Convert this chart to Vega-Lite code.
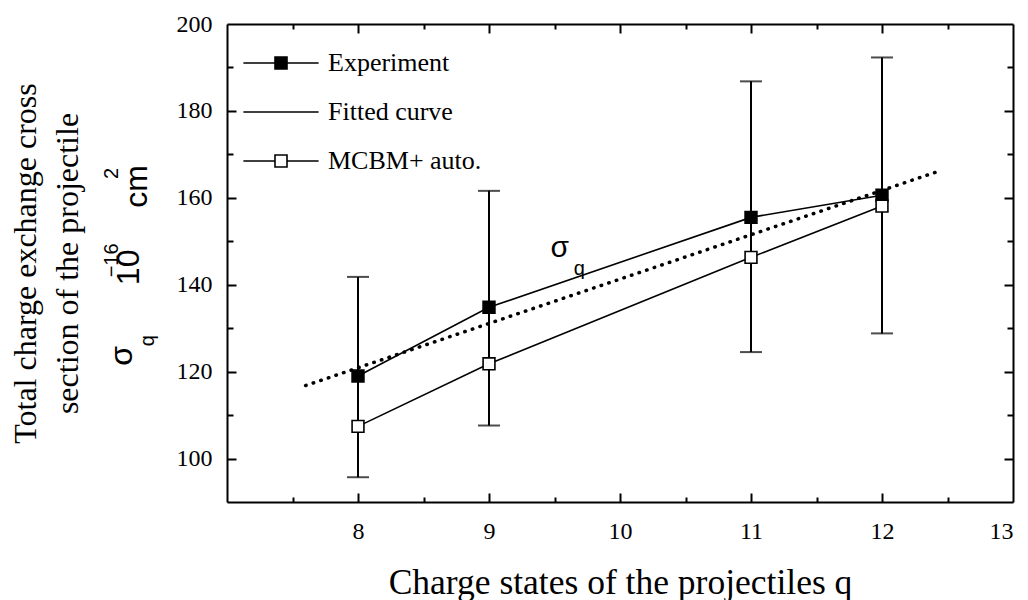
{
  "$schema": "https://vega.github.io/schema/vega-lite/v6.json",
  "width": 786,
  "height": 478,
  "autosize": {"type": "none"},
  "padding": {"left": 227, "top": 24, "right": 15, "bottom": 98},
  "background": "white",
  "config": {
    "view": {"stroke": null},
    "axis": {
      "grid": false,
      "domainColor": "black",
      "tickColor": "black",
      "domainWidth": 2,
      "tickWidth": 2,
      "labelFont": "Liberation Serif",
      "labelFontSize": 24,
      "labelColor": "black",
      "titleFont": "Liberation Serif",
      "titleFontSize": 29,
      "titleFontWeight": "normal",
      "titleColor": "black"
    }
  },
  "datasets": {
    "main": [
      {"series": "Experiment", "q": 8, "sigma": 119.0, "lo": 95.7, "hi": 141.8},
      {"series": "Experiment", "q": 9, "sigma": 134.8, "lo": 107.6, "hi": 161.6},
      {"series": "Experiment", "q": 11, "sigma": 155.5, "lo": 124.5, "hi": 186.8},
      {"series": "Experiment", "q": 12, "sigma": 160.6, "lo": 128.8, "hi": 192.3},
      {"series": "MCBM+ auto.", "q": 8, "sigma": 107.4},
      {"series": "MCBM+ auto.", "q": 9, "sigma": 121.8},
      {"series": "MCBM+ auto.", "q": 11, "sigma": 146.3},
      {"series": "MCBM+ auto.", "q": 12, "sigma": 158.1},
      {"series": "Fitted curve", "q": 7.6, "sigma": 116.8},
      {"series": "Fitted curve", "q": 12.45, "sigma": 166.3}
    ]
  },
  "resolve": {"axis": {"x": "independent", "y": "independent"}},
  "layer": [
    {
      "data": {"name": "main"},
      "transform": [{"filter": "datum.series === 'Experiment'"}],
      "mark": {"type": "rule", "color": "black", "strokeWidth": 2},
      "encoding": {
        "x": {"field": "q", "type": "quantitative", "scale": {"domain": [7, 13], "nice": false, "zero": false},
          "axis": {"orient": "bottom", "values": [8, 9, 10, 11, 12, 13], "ticks": false, "labelPadding": 17, "labelFont": "Liberation Serif", "labelFontSize": 24, "title": "Charge states of the projectiles q", "titlePadding": 22, "titleFont": "Liberation Serif", "titleFontSize": 35.5}},
        "y": {"field": "lo", "type": "quantitative", "scale": {"domain": [90, 200], "nice": false, "zero": false},
          "axis": {"orient": "left", "values": [100, 120, 140, 160, 180, 200], "ticks": false, "labelPadding": 15, "labelFont": "Liberation Serif", "labelFontSize": 24, "title": ["Total charge exchange cross", "section of the projectile"], "titleFont": "Liberation Serif", "titleFontSize": 32, "titlePadding": 92, "titleLineHeight": 42}},
        "y2": {"field": "hi"}
      }
    },
    {
      "data": {"name": "main"},
      "transform": [{"filter": "datum.series === 'Experiment'"}],
      "mark": {"type": "tick", "orient": "horizontal", "color": "black", "size": 22, "thickness": 2},
      "encoding": {
        "x": {"field": "q", "type": "quantitative", "axis": {"orient": "bottom", "values": [8, 9, 10, 11, 12], "labels": false, "domain": false, "tickSize": -9, "title": null}},
        "y": {"field": "lo", "type": "quantitative", "axis": {"orient": "left", "values": [100, 120, 140, 160, 180], "labels": false, "domain": false, "tickSize": -9, "title": null}}
      }
    },
    {
      "data": {"name": "main"},
      "transform": [{"filter": "datum.series === 'Experiment'"}],
      "mark": {"type": "tick", "orient": "horizontal", "color": "black", "size": 22, "thickness": 2},
      "encoding": {
        "x": {"field": "q", "type": "quantitative", "axis": {"orient": "bottom", "values": [7.5, 8.5, 9.5, 10.5, 11.5, 12.5], "labels": false, "domain": false, "tickSize": -5, "title": null}},
        "y": {"field": "hi", "type": "quantitative", "axis": {"orient": "left", "values": [110, 130, 150, 170, 190], "labels": false, "domain": false, "tickSize": -6, "title": null}}
      }
    },
    {
      "data": {"name": "main"},
      "transform": [{"filter": "datum.series === 'Fitted curve'"}],
      "mark": {"type": "line", "color": "black", "strokeWidth": 3.5, "strokeCap": "round", "strokeDash": [0.5, 7.5]},
      "encoding": {
        "x": {"field": "q", "type": "quantitative", "axis": {"orient": "top", "values": [8, 9, 10, 11, 12], "labels": false, "tickSize": -9, "title": null}},
        "y": {"field": "sigma", "type": "quantitative", "axis": {"orient": "right", "values": [100, 120, 140, 160, 180], "labels": false, "tickSize": -9, "title": null}}
      }
    },
    {
      "data": {"name": "main"},
      "transform": [{"filter": "datum.series !== 'Fitted curve'"}],
      "mark": {"type": "line", "color": "black", "strokeWidth": 1.6},
      "encoding": {
        "x": {"field": "q", "type": "quantitative", "axis": {"orient": "top", "values": [7.5, 8.5, 9.5, 10.5, 11.5, 12.5], "labels": false, "domain": false, "tickSize": -5, "title": null}},
        "y": {"field": "sigma", "type": "quantitative", "axis": {"orient": "right", "values": [110, 130, 150, 170, 190], "labels": false, "domain": false, "tickSize": -6, "title": null}},
        "detail": {"field": "series", "type": "nominal"}
      }
    },
    {
      "data": {"name": "main"},
      "transform": [{"filter": "datum.series !== 'Fitted curve'"}],
      "mark": {"type": "point", "shape": "square", "size": 140, "stroke": "black", "strokeWidth": 1.6, "opacity": 1},
      "encoding": {
        "x": {"field": "q", "type": "quantitative", "axis": null},
        "y": {"field": "sigma", "type": "quantitative", "axis": null},
        "fill": {"field": "series", "type": "nominal",
          "scale": {"domain": ["Experiment", "Fitted curve", "MCBM+ auto."], "range": ["black", "white", "white"]},
          "legend": {
            "orient": "none", "legendX": 41, "legendY": 26, "title": null, "padding": 0,
            "labelOffset": 34, "rowPadding": 23, "symbolSize": 256,
            "labelFont": "Liberation Serif", "labelFontSize": 26, "labelColor": "black", "labelLimit": 400,
            "encoding": {
              "symbols": {
                "shape": {"value": {"expr": "datum.value === 'Fitted curve' ? 'M-4.7,0H4.7' : 'M-4.7,0H-0.75M0.75,0H4.7M-0.75,-0.75H0.75V0.75H-0.75Z'"}},
                "fill": {"value": {"expr": "datum.value === 'Experiment' ? 'black' : 'white'"}},
                "stroke": {"value": "black"},
                "strokeWidth": {"value": 1.6},
                "size": {"value": 256},
                "opacity": {"value": 1}
              }
            }
          }}
      }
    },
    {
      "data": {"values": [{}]},
      "mark": {"type": "text", "font": "Liberation Sans", "fontSize": 30, "text": "σ", "color": "black"},
      "encoding": {
        "x": {"datum": 9.54, "type": "quantitative", "axis": null},
        "y": {"datum": 148.4, "type": "quantitative", "axis": null}
      }
    },
    {
      "data": {"values": [{}]},
      "mark": {"type": "text", "font": "Liberation Sans", "fontSize": 20, "text": "q", "color": "black"},
      "encoding": {
        "x": {"datum": 9.69, "type": "quantitative", "axis": null},
        "y": {"datum": 143.7, "type": "quantitative", "axis": null}
      }
    },
    {
      "data": {"values": [{}]},
      "mark": {"type": "text", "font": "Liberation Sans", "fontSize": 32, "text": "σ", "angle": 270, "color": "black"},
      "encoding": {
        "x": {"datum": 6.20, "type": "quantitative", "axis": null},
        "y": {"datum": 123.6, "type": "quantitative", "axis": null}
      }
    },
    {
      "data": {"values": [{}]},
      "mark": {"type": "text", "font": "Liberation Sans", "fontSize": 20, "text": "q", "angle": 270, "color": "black"},
      "encoding": {
        "x": {"datum": 6.40, "type": "quantitative", "axis": null},
        "y": {"datum": 127.1, "type": "quantitative", "axis": null}
      }
    },
    {
      "data": {"values": [{}]},
      "mark": {"type": "text", "font": "Liberation Sans", "fontSize": 32, "text": "10", "angle": 270, "color": "black"},
      "encoding": {
        "x": {"datum": 6.25, "type": "quantitative", "axis": null},
        "y": {"datum": 144.0, "type": "quantitative", "axis": null}
      }
    },
    {
      "data": {"values": [{}]},
      "mark": {"type": "text", "font": "Liberation Sans", "fontSize": 20, "text": "−16", "angle": 270, "color": "black"},
      "encoding": {
        "x": {"datum": 6.12, "type": "quantitative", "axis": null},
        "y": {"datum": 145.6, "type": "quantitative", "axis": null}
      }
    },
    {
      "data": {"values": [{}]},
      "mark": {"type": "text", "font": "Liberation Sans", "fontSize": 32, "text": "cm", "angle": 270, "color": "black"},
      "encoding": {
        "x": {"datum": 6.31, "type": "quantitative", "axis": null},
        "y": {"datum": 162.6, "type": "quantitative", "axis": null}
      }
    },
    {
      "data": {"values": [{}]},
      "mark": {"type": "text", "font": "Liberation Sans", "fontSize": 20, "text": "2", "angle": 270, "color": "black"},
      "encoding": {
        "x": {"datum": 6.12, "type": "quantitative", "axis": null},
        "y": {"datum": 165.6, "type": "quantitative", "axis": null}
      }
    }
  ]
}
